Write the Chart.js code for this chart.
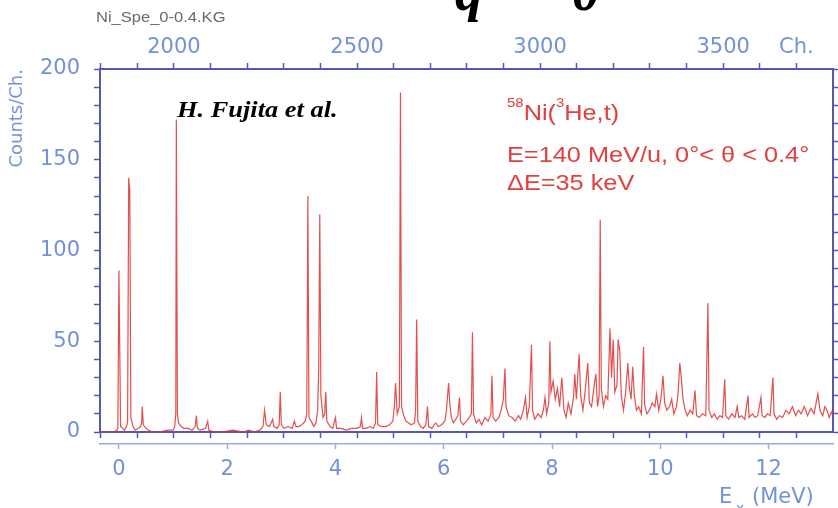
<!DOCTYPE html>
<html>
<head>
<meta charset="utf-8">
<script src="https://cdn.jsdelivr.net/npm/chart.js@4"></script>
<style>
  body { margin: 0; background: #fff; }
  #c { display: block; }
</style>
</head>
<body>
<canvas id="c" width="838" height="508"></canvas>
<script>
// spectrum: excitation energy (MeV) -> counts per channel
var energyMeV = [
  -0.34, -0.1, -0.04, -0.02, 0.0, 0.03, 0.07, 0.1, 0.14, 0.16,
  0.18, 0.2, 0.22, 0.26, 0.3, 0.36, 0.4, 0.42, 0.43, 0.45,
  0.5, 0.55, 0.62, 0.75, 0.9, 1.0, 1.03, 1.05, 1.06, 1.08,
  1.1, 1.15, 1.2, 1.28, 1.35, 1.41, 1.43, 1.45, 1.5, 1.6,
  1.64, 1.66, 1.75, 1.9, 2.1, 2.3, 2.4, 2.5, 2.6, 2.66,
  2.69, 2.72, 2.78, 2.84, 2.86, 2.92, 2.96, 2.98, 3.0, 3.05,
  3.12, 3.2, 3.24, 3.27, 3.32, 3.38, 3.44, 3.47, 3.49, 3.51,
  3.55, 3.6, 3.64, 3.67, 3.69, 3.71, 3.73, 3.77, 3.8, 3.82,
  3.84, 3.9, 3.95, 4.0, 4.02, 4.1, 4.2, 4.3, 4.4, 4.46,
  4.48, 4.5, 4.56, 4.64, 4.7, 4.74, 4.76, 4.78, 4.85, 4.93,
  5.0, 5.06, 5.09, 5.11, 5.14, 5.18, 5.2, 5.22, 5.26, 5.3,
  5.35, 5.4, 5.46, 5.48, 5.5, 5.52, 5.57, 5.62, 5.67, 5.7,
  5.72, 5.78, 5.85, 5.9, 5.96, 6.02, 6.05, 6.07, 6.09, 6.11,
  6.14, 6.18, 6.22, 6.26, 6.29, 6.31, 6.36, 6.42, 6.47, 6.51,
  6.53, 6.55, 6.6, 6.65, 6.7, 6.76, 6.82, 6.87, 6.89, 6.91,
  6.96, 7.02, 7.06, 7.1, 7.13, 7.15, 7.2, 7.26, 7.32, 7.38,
  7.42, 7.47, 7.51, 7.54, 7.58, 7.62, 7.64, 7.68, 7.74, 7.8,
  7.84, 7.87, 7.9, 7.94, 7.96, 7.98, 8.02, 8.06, 8.1, 8.14,
  8.18, 8.22, 8.26, 8.3, 8.35, 8.4, 8.42, 8.45, 8.5, 8.53,
  8.57, 8.61, 8.66, 8.69, 8.73, 8.78, 8.81, 8.84, 8.87, 8.89,
  8.91, 8.95, 8.99, 9.03, 9.07, 9.1, 9.13, 9.16, 9.2, 9.22,
  9.25, 9.28, 9.32, 9.36, 9.4, 9.43, 9.46, 9.49, 9.52, 9.56,
  9.6, 9.65, 9.69, 9.71, 9.75, 9.8, 9.85, 9.9, 9.93, 9.97,
  10.01, 10.05, 10.08, 10.12, 10.17, 10.21, 10.25, 10.3, 10.33, 10.36,
  10.39, 10.42, 10.46, 10.5, 10.55, 10.6, 10.64, 10.67, 10.72, 10.78,
  10.84, 10.88, 10.9, 10.95, 11.0, 11.05, 11.1, 11.15, 11.19, 11.21,
  11.26, 11.32, 11.38, 11.42, 11.45, 11.5, 11.56, 11.62, 11.64, 11.7,
  11.75, 11.8, 11.86, 11.88, 11.93, 11.98, 12.03, 12.08, 12.1, 12.15,
  12.2, 12.26, 12.32, 12.38, 12.44, 12.5, 12.55, 12.6, 12.66, 12.72,
  12.78, 12.84, 12.91, 12.95, 13.0, 13.04, 13.08, 13.12, 13.16, 13.19
];
var countsPerCh = [
  0, 0, 1, 2, 89, 3, 2, 1, 3, 6,
  140, 133, 8, 3, 1, 2, 3, 5, 14, 4,
  2, 1, 0, 0, 1, 1, 3, 10, 172, 10,
  5, 3, 2, 2, 1, 3, 9, 2, 1, 2,
  6, 1, 0, 0, 1, 0, 1, 0, 1, 3,
  12, 4, 3, 7, 3, 2, 4, 22, 4, 2,
  3, 2, 6, 3, 3, 4, 6, 10, 130, 8,
  6, 3, 5, 12, 34, 120, 20, 8, 10, 22,
  6, 3, 2, 8, 2, 2, 1, 2, 2, 3,
  8, 2, 2, 3, 2, 5, 33, 4, 3, 3,
  4, 6, 15, 27, 10, 14, 187, 14, 9, 6,
  5, 4, 5, 12, 62, 6, 3, 2, 4, 14,
  3, 2, 5, 3, 4, 6, 12, 20, 27, 16,
  8, 5, 7, 9, 19, 6, 4, 6, 8, 10,
  55, 10, 5, 7, 4, 8, 6, 10, 31, 8,
  6, 8, 12, 18, 35, 14, 9, 8, 6, 9,
  7, 12, 19, 8, 14, 48, 12, 7, 10, 8,
  12, 19, 10, 16, 50, 22, 28, 18, 24, 14,
  30, 12, 8, 16, 10, 20, 32, 18, 43, 20,
  12, 22, 38, 16, 14, 26, 32, 14, 20, 117,
  24, 14, 20, 18, 57, 30, 51, 22, 26, 51,
  45, 20, 12, 22, 38, 24, 18, 36, 20, 12,
  14, 10, 47, 15, 10, 12, 16, 14, 21, 12,
  18, 31, 16, 12, 14, 18, 10, 14, 22, 38,
  29, 18, 12, 9, 12, 10, 23, 9, 8, 10,
  9, 71, 12, 8, 10, 7, 9, 8, 29, 9,
  7, 10, 8, 14, 8, 9, 7, 20, 8, 10,
  8, 9, 19, 9, 8, 10, 9, 30, 10, 7,
  9, 8, 12, 10, 14, 9, 12, 10, 14, 9,
  13, 10, 21, 12, 9, 14, 12, 8, 11, 9
];

// tick values
var countTicks = [0, 10, 20, 30, 40, 50, 60, 70, 80, 90, 100, 110, 120, 130, 140, 150, 160, 170, 180, 190, 200];
var channelTicks = [1800, 1900, 2000, 2100, 2200, 2300, 2400, 2500, 2600, 2700, 2800, 2900, 3000, 3100, 3200, 3300, 3400, 3500, 3600, 3700];
var channelLabels = { 2000: '2000', 2500: '2500', 3000: '3000', 3500: '3500', 3700: 'Ch.' };
var energyTicks = [0, 2, 4, 6, 8, 10, 12];

var axisColor = '#5656b4';
var labelColor = '#7391da';
var lowAxisColor = '#97abe2';
var redText = '#e2403e';
var tickFont = { family: "'DejaVu Sans', sans-serif", size: 21 };

var points = energyMeV.map(function(e, i) {
    return { x: e, y: countsPerCh[i] };
});

function setTicks(values) {
    return function(scale) {
        scale.ticks = values.map(function(v) { return { value: v }; });
    };
}

function put(ctx, txt, x, y, font, sx) {
    ctx.font = font;
    var w = ctx.measureText(txt).width * sx;
    ctx.save();
    ctx.translate(x, y);
    ctx.scale(sx, 1);
    ctx.fillText(txt, 0, 0);
    ctx.restore();
    return x + w;
}

var textPlugin = {
    id: 'texts',
    afterDraw: function(chart) {
        var ctx = chart.ctx;
        ctx.save();
        ctx.textBaseline = 'alphabetic';
        ctx.textAlign = 'left';

        // cut-off title at the very top
        ctx.fillStyle = '#000';
        put(ctx, 'q', 455, 10, 'italic bold 56px "Liberation Serif", serif', 1);
        put(ctx, '0', 572, 10, 'italic bold 56px "Liberation Serif", serif', 1);

        ctx.fillStyle = '#6a6a6a';
        put(ctx, 'Ni_Spe_0-0.4.KG', 96, 22, '14px "Liberation Sans", Arial, sans-serif', 1.18);

        ctx.fillStyle = '#000';
        put(ctx, 'H. Fujita et al.', 177, 117, 'italic bold 24px "Liberation Serif", serif', 1.1);

        ctx.fillStyle = redText;
        var f = '22px "Liberation Sans", Arial, sans-serif';
        var fs = '13px "Liberation Sans", Arial, sans-serif';
        var x = put(ctx, '58', 507, 107, fs, 1.15);
        x = put(ctx, 'Ni(', x, 120, f, 1.15);
        x = put(ctx, '3', x, 107, fs, 1.15);
        put(ctx, 'He,t)', x, 120, f, 1.15);
        put(ctx, 'E=140 MeV/u, 0°< θ < 0.4°', 507, 162, f, 1.15);
        put(ctx, 'ΔE=35 keV', 507, 190, f, 1.15);

        // energy axis title
        ctx.fillStyle = labelColor;
        put(ctx, 'E', 719, 503, "21px 'DejaVu Sans', sans-serif", 1);
        put(ctx, 'x', 736, 513, "14px 'DejaVu Sans', sans-serif", 1);
        put(ctx, '(MeV)', 752, 503, "21px 'DejaVu Sans', sans-serif", 1);
        ctx.restore();
    }
};

var ctx = document.getElementById('c').getContext('2d');
var chart = new Chart(ctx, {
    type: 'line',
    data: {
        datasets: [{
            data: points,
            xAxisID: 'x',
            yAxisID: 'y',
            borderColor: 'rgba(222, 48, 48, 0.85)',
            borderWidth: 1.2,
            pointRadius: 0,
            tension: 0,
            fill: false
        }]
    },
    options: {
        responsive: false,
        animation: false,
        devicePixelRatio: 1,
        layout: { padding: 0 },
        plugins: {
            legend: { display: false },
            tooltip: { enabled: false }
        },
        scales: {
            y: {
                type: 'linear',
                position: 'left',
                min: 0,
                max: 200,
                afterBuildTicks: setTicks(countTicks),
                afterFit: function(s) { s.width = 100; },
                grid: { drawOnChartArea: false, tickLength: 6, color: axisColor, tickWidth: 1.5 },
                border: { color: axisColor, width: 2 },
                ticks: {
                    autoSkip: false,
                    padding: 14,
                    color: labelColor,
                    font: tickFont,
                    callback: function(v) { return v % 50 === 0 ? String(v) : ''; }
                },
                title: {
                    display: true,
                    text: 'Counts/Ch.',
                    align: 'end',
                    color: labelColor,
                    font: { family: "'DejaVu Sans', sans-serif", size: 18 },
                    padding: { top: 7, bottom: 0 }
                }
            },
            yr: {
                type: 'linear',
                position: 'right',
                min: 0,
                max: 200,
                afterBuildTicks: setTicks(countTicks),
                afterFit: function(s) { s.width = 5; },
                grid: { drawOnChartArea: false, tickLength: 5, color: axisColor, tickWidth: 1.5 },
                border: { color: axisColor, width: 2 },
                ticks: { display: false }
            },
            ch: {
                type: 'linear',
                position: 'top',
                min: 1798,
                max: 3800,
                afterBuildTicks: setTicks(channelTicks),
                afterFit: function(s) { s.height = 69; },
                grid: { drawOnChartArea: false, tickLength: 6, color: axisColor, tickWidth: 1.5 },
                border: { color: axisColor, width: 2 },
                ticks: {
                    autoSkip: false,
                    maxRotation: 0,
                    padding: 3,
                    color: labelColor,
                    font: tickFont,
                    callback: function(v) { return channelLabels[v] || ''; }
                }
            },
            chb: {
                type: 'linear',
                position: 'bottom',
                weight: 0,
                min: 1798,
                max: 3800,
                afterBuildTicks: setTicks(channelTicks),
                afterFit: function(s) { s.height = 12; },
                grid: { drawOnChartArea: false, tickLength: 6, color: axisColor, tickWidth: 1.5 },
                border: { color: axisColor, width: 2 },
                ticks: { display: false }
            },
            x: {
                type: 'linear',
                position: 'bottom',
                weight: 1,
                min: -0.35,
                max: 13.19,
                afterBuildTicks: setTicks(energyTicks),
                afterFit: function(s) { s.height = 64; },
                grid: { drawOnChartArea: false, tickLength: 5, color: lowAxisColor, tickWidth: 1.5 },
                border: { color: lowAxisColor, width: 1.5 },
                ticks: {
                    autoSkip: false,
                    maxRotation: 0,
                    padding: 8,
                    color: labelColor,
                    font: tickFont
                }
            }
        }
    },
    plugins: [textPlugin]
});
</script>
</body>
</html>
